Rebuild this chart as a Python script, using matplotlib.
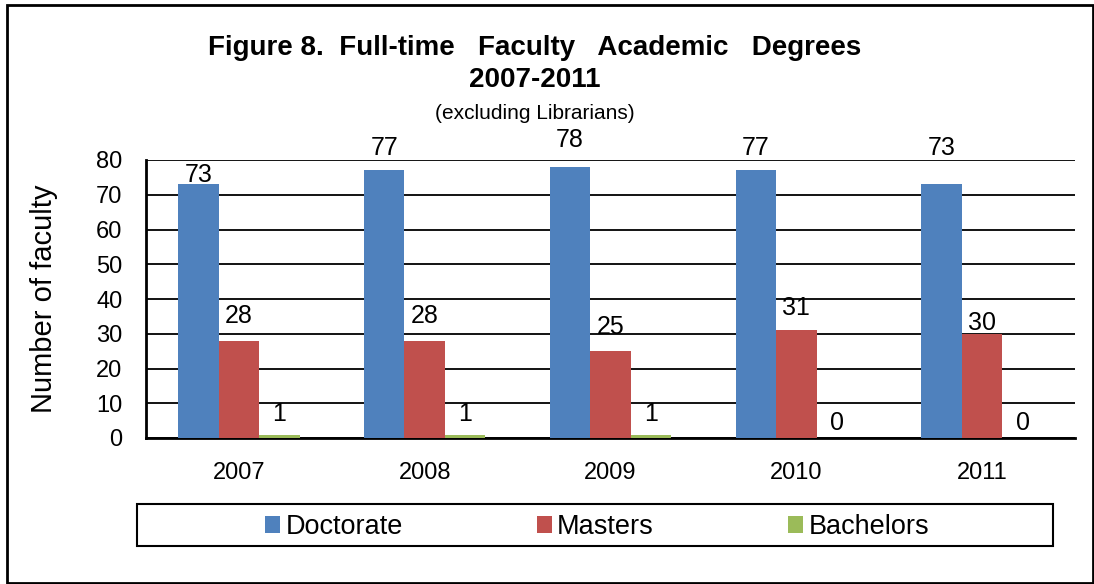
import numpy as np
import matplotlib
matplotlib.use("Agg")
import matplotlib.pyplot as plt
from matplotlib.patches import Rectangle

plt.rcParams["font.family"] = ["Liberation Sans", "DejaVu Sans"]

# datos
years      = ["2007", "2008", "2009", "2010", "2011"]
doctorate  = [73, 77, 78, 77, 73]
masters    = [28, 28, 25, 31, 30]
bachelors  = [1, 1, 1, 0, 0]

series_names  = ["Doctorate", "Masters", "Bachelors"]
series_colors = ["#4F81BD", "#C0504D", "#9BBB59"]

# desplazamiento de las etiquetas sobre cada barra (pixeles)
label_off = [
    [9, 22, 27, 22, 36],
    [25, 25, 24, 22, 11],
    [21, 21, 21, 15, 15],
]

fig = plt.figure(figsize=(10.94, 5.84), dpi=100)
ax = fig.add_axes([146 / 1094, 1 - 438 / 584, (1075 - 146) / 1094, (438 - 160) / 584])

x = np.arange(len(years))
w = 0.218
all_vals = [doctorate, masters, bachelors]

for i, (vals, name, col) in enumerate(zip(all_vals, series_names, series_colors)):
    pos = x + (i - 1) * w
    ax.bar(pos, vals, width=w, color=col, label=name, zorder=3)
    for j, (px, v) in enumerate(zip(pos, vals)):
        ax.annotate(str(v), (px, v), xytext=(0, label_off[i][j] * 0.72),
                    textcoords="offset points", ha="center", va="center",
                    fontsize=18, zorder=4)

ax.set_xlim(-0.5, len(years) - 0.5)
ax.set_ylim(0, 80)
ax.set_yticks(range(0, 81, 10))
ax.set_xticks(x)
ax.set_xticklabels(years)
ax.tick_params(axis="y", labelsize=17, length=0, pad=17)
ax.tick_params(axis="x", labelsize=17, length=0, pad=17)
ax.grid(axis="y", color="black", linewidth=1.3, zorder=0)
ax.set_axisbelow(True)
for s in ["top", "right"]:
    ax.spines[s].set_visible(False)
ax.spines["left"].set_linewidth(2)
ax.spines["bottom"].set_linewidth(2)

ax.set_ylabel("Number of faculty", fontsize=21)
ax.yaxis.set_label_coords((58 - 146) / 929, 0.5)

# titulos
fig.text(535 / 1094, 1 - 48 / 584, "Figure 8.  Full-time   Faculty   Academic   Degrees",
         ha="center", va="center", fontsize=20, fontweight="bold")
fig.text(535 / 1094, 1 - 80 / 584, "2007-2011", ha="center", va="center",
         fontsize=20, fontweight="bold")
fig.text(535 / 1094, 1 - 113 / 584, "(excluding Librarians)", ha="center", va="center",
         fontsize=15)

# leyenda
handles, labels = ax.get_legend_handles_labels()
fig.legend(handles, labels, loc="center", bbox_to_anchor=(597 / 1094, 1 - 527 / 584),
           ncol=3, frameon=False, fontsize=19.5, handlelength=0.55, handleheight=0.55,
           handletextpad=0.2, columnspacing=4.95)
fig.patches.append(Rectangle((137 / 1094, 1 - 546 / 584), (1053 - 137) / 1094, 42 / 584,
                             transform=fig.transFigure, fill=False, edgecolor="black",
                             linewidth=1.5))
fig.patches.append(Rectangle((7 / 1094, 1 - 583 / 584), (1093 - 7) / 1094, 578 / 584,
                             transform=fig.transFigure, fill=False, edgecolor="black",
                             linewidth=2))

fig.savefig("out.png", dpi=100)
